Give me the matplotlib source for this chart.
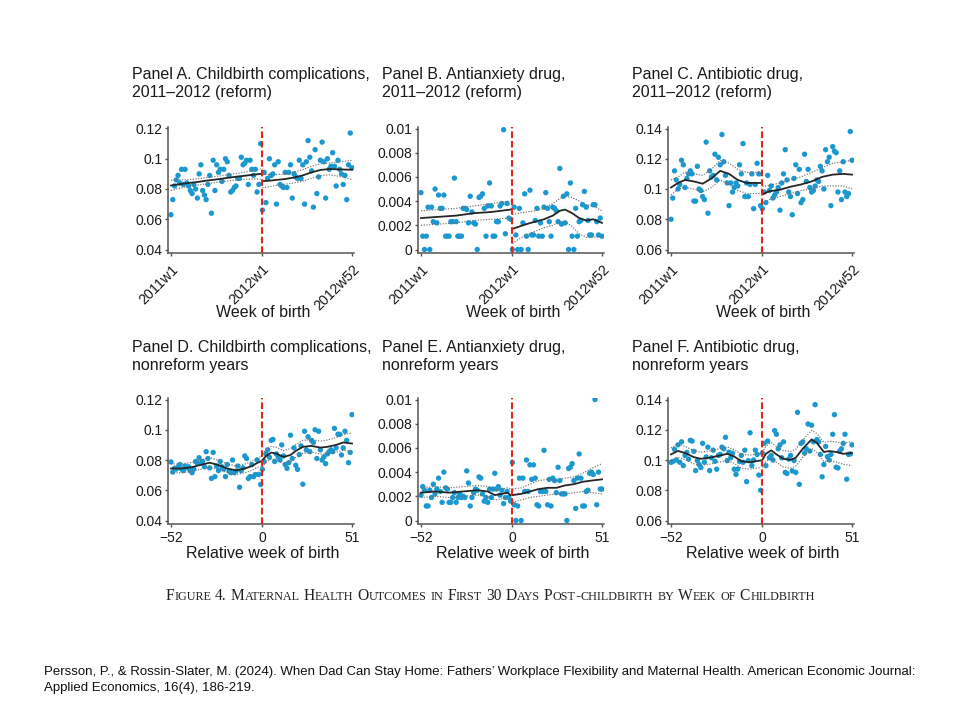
"""Figure 4 - maternal health outcomes by week of childbirth (six panels)"""
import re

import matplotlib
matplotlib.use('Agg')
import matplotlib.pyplot as plt
import numpy as np

plt.rcParams['font.family'] = ['Liberation Sans', 'DejaVu Sans']

DOT_COLOR = '#1a98cf'
CUT_COLOR = '#e3261b'
SPINE_COLOR = '#555555'

# week labels
TOP_TICKS = [0, 52, 103]
TOP_TICK_LABELS = ['2011w1', '2012w1', '2012w52']
BOTTOM_TICKS = [-52, 0, 51]
BOTTOM_TICK_LABELS = ['\u221252', '0', '51']

# ---- Panel A: childbirth complications, 2011-2012 (weeks 2011w1 .. 2012w52)
A_VALUES = [
    0.063, 0.073, 0.082, 0.086, 0.089, 0.084, 0.093, 0.083, 0.093, 0.084, 0.082, 0.079, 0.077,
    0.083, 0.080, 0.074, 0.090, 0.096, 0.079, 0.076, 0.073, 0.083, 0.089, 0.064, 0.099, 0.079,
    0.096, 0.091, 0.093, 0.085, 0.093, 0.100, 0.098, 0.089, 0.078, 0.079, 0.081, 0.082, 0.087,
    0.087, 0.101, 0.096, 0.097, 0.099, 0.083, 0.099, 0.093, 0.089, 0.093, 0.078, 0.083, 0.110,
    0.066, 0.091, 0.071, 0.087, 0.100, 0.089, 0.090, 0.096, 0.070, 0.098, 0.083, 0.082, 0.081,
    0.091, 0.081, 0.091, 0.096, 0.074, 0.090, 0.088, 0.087, 0.099, 0.087, 0.096, 0.070, 0.098,
    0.112, 0.101, 0.092, 0.068, 0.106, 0.077, 0.088, 0.099, 0.111, 0.098, 0.074, 0.100, 0.093,
    0.095, 0.104, 0.095, 0.082, 0.099, 0.093, 0.090, 0.083, 0.089, 0.073, 0.096, 0.117, 0.094,
]
# (week, fit, lower, upper)
A_FIT_PRE = [(0, .0823, .0790, .0858), (5, .0832, .0805, .0860), (10, .0840, .0818, .0862),
             (15, .0846, .0825, .0867), (20, .0855, .0834, .0876), (25, .0862, .0842, .0882),
             (30, .0870, .0850, .0890), (35, .0878, .0857, .0899), (40, .0885, .0862, .0908),
             (45, .0892, .0866, .0918), (51, .0900, .0866, .0933)]
A_FIT_POST = [(52, .0852, .0808, .0897), (56, .0855, .0815, .0895), (60, .0860, .0825, .0895),
              (65, .0866, .0832, .0900), (70, .0876, .0840, .0912), (75, .0890, .0852, .0928),
              (80, .0910, .0870, .0950), (85, .0926, .0888, .0966), (90, .0932, .0894, .0972),
              (95, .0930, .0885, .0977), (100, .0928, .0872, .0985), (103, .0928, .0862, .0990)]

# ---- Panel B: antianxiety drug, 2011-2012
B_VALUES = [
    .0047, .0011, 0, .0011, .0035, 0, .0035, .0023, .0050, .0022, .0045, .0034, .0034,
    .0045, .0011, .0011, .0011, .0023, .0023, .0059, .0023, .0011, .0011, .0011, .0034, .0034,
    .0033, .0022, .0044, .0031, .0022, .0021, 0, .0043, .0044, .0046, .0034, .0011, .0036,
    .0055, .0036, .0011, .0011, .0023, .0023, .0036, .0038, .0099, .0013, .0038, .0026, .0025,
    0, .0035, .0012, 0, .0034, 0, .0022, .0046, .0011, 0, .0049, .0012, .0012,
    .0024, .0034, .0011, .0022, .0011, .0035, .0047, .0034, .0023, .0011, .0035, .0034, .0032,
    .0023, .0067, .0021, .0044, .0022, .0046, 0, .0055, .0011, 0, .0034, .0011, .0023,
    .0024, .0037, .0048, .0035, .0024, .0012, .0012, .0037, .0037, .0023, .0012, .0026, .0011,
]
B_FIT_PRE = [(0, .0026, .0020, .0032), (10, .0027, .0021, .0033), (20, .0028, .0022, .0034),
             (30, .0030, .0024, .0036), (40, .0031, .0025, .0038), (51, .0033, .0026, .0040)]
B_FIT_POST = [(52, .0017, .0005, .0029), (56, .0019, .0009, .0030), (60, .0021, .0012, .0031),
              (65, .0023, .0015, .0032), (70, .0025, .0018, .0034), (75, .0028, .0020, .0038),
              (79, .0032, .0023, .0042), (82, .0033, .0023, .0044), (86, .0030, .0019, .0043),
              (90, .0026, .0013, .0040), (94, .0024, .0010, .0037), (98, .0025, .0010, .0036),
              (103, .0022, .0011, .0032)]

# ---- Panel C: antibiotic drug, 2011-2012
C_VALUES = [
    .080, .094, .112, .106, .100, .103, .119, .116, .101, .107, .110, .112, .110,
    .092, .092, .115, .100, .099, .095, .093, .131, .084, .112, .108, .109, .123,
    .106, .121, .116, .136, .118, .109, .104, .089, .104, .098, .101, .104, .102,
    .116, .110, .130, .095, .104, .095, .103, .110, .087, .103, .117, .110, .089,
    .087, .098, .091, .109, .099, .102, .094, .096, .098, .101, .086, .104, .110,
    .126, .106, .098, .095, .083, .107, .116, .097, .113, .091, .093, .123, .105,
    .113, .101, .098, .099, .102, .106, .105, .115, .112, .100, .126, .118, .121,
    .089, .128, .125, .124, .098, .112, .093, .118, .098, .095, .097, .138, .119,
]
C_FIT_PRE = [(0, .101, .096, .106), (4, .104, .100, .108), (8, .106, .101, .111),
             (13, .105, .100, .110), (18, .1035, .098, .109), (23, .107, .101, .113),
             (28, .112, .106, .119), (33, .110, .103, .117), (38, .106, .099, .113),
             (43, .104, .097, .111), (48, .104, .097, .111), (51, .104, .097, .111)]
C_FIT_POST = [(52, .0965, .090, .1015), (56, .0985, .093, .1025), (62, .0995, .095, .104),
              (68, .1015, .097, .106), (74, .103, .099, .108), (80, .105, .100, .111),
              (86, .108, .102, .114), (92, .1095, .102, .117), (98, .110, .102, .118),
              (103, .1095, .100, .119)]

# ---- Panel D: childbirth complications, nonreform years (relative week -52 .. 51)
D_VALUES = [
    .0787, .0720, .0745, .0740, .0755, .0770, .0740, .0730, .0760, .0748, .0755, .0730, .0716,
    .0740, .0790, .0780, .0815, .0780, .0790, .0755, .0855, .0810, .0748, .0678, .0850, .0690,
    .0760, .0730, .0790, .0755, .0740, .0690, .0770, .0727, .0716, .0800, .0716, .0727, .0760,
    .0620, .0730, .0748, .0827, .0810, .0678, .0690, .0770, .0690, .0704, .0800, .0705, .0638,
    .0738, .0790, .0840, .0867, .0818, .0930, .0936, .0790, .0840, .0820, .0800, .0900, .0827,
    .0770, .0745, .0782, .0964, .0810, .0880, .0765, .0738, .0836, .0893, .0640, .0990, .0867,
    .0953, .0855, .0930, .0916, .1000, .0810, .0990, .0867, .0800, .0820, .0776, .0840, .0855,
    .0867, .0855, .1009, .0880, .0970, .0970, .0833, .0880, .0990, .0930, .0782, .0850, .1100,
]
D_FIT_PRE = [(-52, .0744, .0716, .0774), (-46, .0744, .0716, .0774), (-40, .0753, .0724, .0784),
             (-34, .0771, .0742, .0803), (-30, .0782, .0752, .0815), (-25, .0767, .0738, .0798),
             (-20, .0744, .0716, .0774), (-15, .0731, .0703, .0760), (-10, .0744, .0716, .0773),
             (-6, .0760, .0731, .0790), (-3, .0780, .0750, .0811), (-1, .0790, .0758, .0822)]
D_FIT_POST = [(0, .0798, .0756, .0840), (2, .0825, .0784, .0866), (5, .0849, .0808, .0890),
              (8, .0842, .0800, .0884), (12, .0820, .0778, .0862), (16, .0833, .0791, .0875),
              (19, .0860, .0818, .0902), (23, .0887, .0844, .0930), (28, .0893, .0851, .0935),
              (33, .0882, .0839, .0925), (37, .0887, .0842, .0932), (42, .0900, .0852, .0948),
              (46, .0916, .0864, .0968), (51, .0909, .0855, .0978)]

# ---- Panel E: antianxiety drug, nonreform years
E_VALUES = [
    .0021, .0028, .0025, .0012, .0012, .0025, .0019, .0030, .0022, .0026, .0035, .0024, .0015,
    .0040, .0027, .0026, .0015, .0015, .0019, .0023, .0015, .0019, .0022, .0019, .0020, .0019,
    .0041, .0031, .0012, .0019, .0023, .0026, .0025, .0036, .0035, .0022, .0016, .0019, .0015,
    .0026, .0019, .0026, .0039, .0026, .0028, .0021, .0025, .0014, .0019, .0024, .0019, .0016,
    .0048, .0013, 0, .0012, .0035, 0, .0035, .0024, .0050, .0024, .0046, .0034, .0046,
    .0035, .0013, .0012, .0024, .0024, .0058, .0024, .0013, .0034, .0012, .0035, .0033, .0023,
    .0044, .0033, .0022, .0022, .0022, 0, .0043, .0044, .0047, .0033, .0010, .0035, .0055,
    .0035, .0012, .0012, .0024, .0025, .0039, .0040, .0038, .0100, .0013, .0040, .0026, .0026,
]
E_FIT_PRE = [(-52, .0023, .0019, .0027), (-44, .0024, .0020, .0028), (-36, .0023, .0019, .0027),
             (-28, .0024, .0020, .0028), (-20, .0025, .0021, .0029), (-14, .0024, .0020, .0028),
             (-10, .0021, .0017, .0025), (-6, .0022, .0018, .0026), (-3, .0023, .0019, .0027),
             (-1, .0021, .0016, .0026)]
E_FIT_POST = [(0, .0021, .0015, .0026), (5, .0022, .0017, .0027), (10, .0024, .0019, .0030),
              (15, .0026, .0020, .0033), (20, .0027, .0021, .0034), (25, .0027, .0022, .0033),
              (30, .0029, .0022, .0035), (35, .0030, .0023, .0036), (40, .0032, .0024, .0039),
              (45, .0033, .0023, .0043), (51, .0034, .0022, .0047)]

# ---- Panel F: antibiotic drug, nonreform years
F_VALUES = [
    .0985, .0990, .1070, .1000, .1100, .0985, .1120, .0963, .1030, .1050, .1006, .1130, .1125,
    .1057, .0930, .0996, .0970, .0950, .1110, .0985, .1020, .1085, .0930, .1015, .1065, .0992,
    .0939, .1030, .1037, .1085, .1074, .1150, .0996, .1052, .1015, .1045, .0939, .0905, .0940,
    .0990, .1030, .0985, .1065, .0857, .0996, .1180, .0963, .1000, .1065, .1037, .0900, .0800,
    .1046, .1110, .0963, .1125, .1015, .1030, .1000, .1194, .1170, .1074, .1100, .1015, .1120,
    .0918, .0911, .1006, .1030, .0928, .0996, .0918, .1315, .0839, .1110, .1120, .1046, .1074,
    .1238, .1059, .1230, .1120, .1366, .1135, .1120, .1037, .0889, .0970, .1090, .1022, .1000,
    .1037, .1170, .1300, .0952, .0947, .1059, .1074, .1110, .1170, .0873, .1037, .1040, .1100,
]
F_FIT_PRE = [(-52, .1037, .0995, .1080), (-48, .1060, .1018, .1105), (-44, .1046, .1003, .1090),
             (-39, .1019, .0975, .1063), (-35, .1008, .0965, .1052), (-30, .1015, .0972, .1060),
             (-24, .1030, .0987, .1075), (-20, .1041, .0997, .1086), (-16, .1023, .0978, .1068),
             (-12, .0992, .0946, .1038), (-7, .0985, .0940, .1032), (-1, .0997, .0950, .1045)]
F_FIT_POST = [(0, .1001, .0951, .1051), (2, .1041, .0990, .1092), (5, .1064, .1012, .1116),
              (8, .1037, .0984, .1090), (12, .1008, .0954, .1062), (16, .1001, .0946, .1056),
              (19, .1015, .0959, .1071), (23, .1075, .1018, .1132), (28, .1136, .1076, .1196),
              (31, .1113, .1051, .1175), (35, .1053, .0989, .1117), (38, .1059, .0994, .1124),
              (42, .1053, .0986, .1120), (46, .1041, .0972, .1110), (51, .1046, .0963, .1122)]

CAPTION = "Figure 4. Maternal Health Outcomes in First 30 Days Post-childbirth by Week of Childbirth"
CITATION_LINES = ["Persson, P., & Rossin-Slater, M. (2024). When Dad Can Stay Home: Fathers\u2019 "
                  "Workplace Flexibility and Maternal Health. American Economic Journal:",
                  "Applied Economics, 16(4), 186-219."]

W, H = 960, 720


def px_box(left, bottom, width, height):
    """pixel box (top-left origin) -> figure fraction rect"""
    return [left / W, 1 - bottom / H, width / W, height / H]


def draw_panel(fig, left, bottom, values, fit_pre, fit_post, weeks, cut, yticks,
               xticks, xticklabels, rotate):
    ax = fig.add_axes(px_box(left, bottom, 186, 126.5))
    ax.scatter(weeks, values, s=15, color=DOT_COLOR, edgecolors='none', zorder=2)
    for fit in (fit_pre, fit_post):
        wk, mid, lo, hi = zip(*fit)
        ax.plot(wk, mid, color='#262626', lw=1.3, zorder=4)
        ax.plot(wk, lo, color='#6e6e6e', lw=0.85, ls=(0, (1, 1.3)), zorder=3)
        ax.plot(wk, hi, color='#6e6e6e', lw=0.85, ls=(0, (1, 1.3)), zorder=3)
    ax.axvline(cut, color=CUT_COLOR, lw=1.5, ls=(0, (3.2, 1.4)), zorder=5)

    # axis ranges: ticks placed so that the spine sticks out a bit
    step = (yticks[-1] - yticks[0]) / 121
    ax.set_ylim(yticks[0] - 3.5 * step, yticks[-1] + 2 * step)
    ax.set_yticks(yticks)
    ax.set_yticklabels(['%g' % t for t in yticks])
    xs = (xticks[-1] - xticks[0]) / 181
    ax.set_xlim(xticks[0] - 3 * xs, xticks[-1] + 2 * xs)
    ax.set_xticks(xticks)
    ax.set_xticklabels(xticklabels)

    for side in ('top', 'right'):
        ax.spines[side].set_visible(False)
    for side in ('left', 'bottom'):
        ax.spines[side].set_color(SPINE_COLOR)
        ax.spines[side].set_linewidth(1.1)
    ax.tick_params(length=2.5, width=1.0, color=SPINE_COLOR, labelsize=10,
                   labelcolor='#1a1a1a', pad=1.5)
    if rotate:
        ax.tick_params(axis='x', pad=4, labelsize=10.3)
        plt.setp(ax.get_xticklabels(), rotation=45, ha='right', va='top',
                 rotation_mode='anchor')
    else:
        ax.tick_params(axis='x', pad=2.5)
    ax.set_facecolor('none')
    return ax


def small_caps(fig, x_center, y, text, size, ratio=0.78, **kw):
    """write text in (fake) small caps, centred at x_center (pixels)"""
    renderer = fig.canvas.get_renderer()
    space = 0.26 * size * 100 / 72
    xpos = 0.0
    pieces = []
    for word in text.split(' '):
        for run in re.findall(r"[a-z]+|[^a-z]+", word):
            fs = size * ratio if run.islower() else size
            t = fig.text(0, 1 - y / H, run.upper(), fontsize=fs, va='baseline', **kw)
            w = t.get_window_extent(renderer).width
            pieces.append((t, xpos))
            xpos += w
        xpos += space
    total = xpos - space
    x0 = x_center - total / 2
    for t, off in pieces:
        t.set_x((x0 + off) / W)


def main():
    fig = plt.figure(figsize=(9.6, 7.2), dpi=100)
    top_weeks = np.arange(104)
    rel_weeks = np.arange(-52, 52)

    top = [
        (168, A_VALUES, A_FIT_PRE, A_FIT_POST, [0.04, 0.06, 0.08, 0.1, 0.12],
         ["Panel A. Childbirth complications,", "2011\u20132012 (reform)"]),
        (418, B_VALUES, B_FIT_PRE, B_FIT_POST, [0, 0.002, 0.004, 0.006, 0.008, 0.01],
         ["Panel B. Antianxiety drug,", "2011\u20132012 (reform)"]),
        (668, C_VALUES, C_FIT_PRE, C_FIT_POST, [0.06, 0.08, 0.1, 0.12, 0.14],
         ["Panel C. Antibiotic drug,", "2011\u20132012 (reform)"]),
    ]
    bottom = [
        (168, D_VALUES, D_FIT_PRE, D_FIT_POST, [0.04, 0.06, 0.08, 0.1, 0.12],
         ["Panel D. Childbirth complications,", "nonreform years"]),
        (418, E_VALUES, E_FIT_PRE, E_FIT_POST, [0, 0.002, 0.004, 0.006, 0.008, 0.01],
         ["Panel E. Antianxiety drug,", "nonreform years"]),
        (668, F_VALUES, F_FIT_PRE, F_FIT_POST, [0.06, 0.08, 0.1, 0.12, 0.14],
         ["Panel F. Antibiotic drug,", "nonreform years"]),
    ]

    for left, vals, pre, post, yt, title in top:
        draw_panel(fig, left, 253, vals, pre, post, top_weeks, 52, yt,
                   TOP_TICKS, TOP_TICK_LABELS, rotate=True)
        fig.text((left - 36) / W, 1 - 79 / H, title[0], fontsize=11.5, color='#1a1a1a')
        fig.text((left - 36) / W, 1 - 97 / H, title[1], fontsize=11.5, color='#1a1a1a')
        fig.text((left + 95) / W, 1 - 317 / H, "Week of birth", fontsize=11.5,
                 ha='center', va='baseline', color='#1a1a1a')

    for left, vals, pre, post, yt, title in bottom:
        draw_panel(fig, left, 524, vals, pre, post, rel_weeks, 0, yt,
                   BOTTOM_TICKS, BOTTOM_TICK_LABELS, rotate=False)
        fig.text((left - 36) / W, 1 - 352 / H, title[0], fontsize=11.5, color='#1a1a1a')
        fig.text((left - 36) / W, 1 - 370 / H, title[1], fontsize=11.5, color='#1a1a1a')
        fig.text((left + 95) / W, 1 - 558 / H, "Relative week of birth", fontsize=11.5,
                 ha='center', va='baseline', color='#1a1a1a')

    small_caps(fig, 490, 600, CAPTION, 11.2, family='Liberation Serif', color='#222222')
    for i, line in enumerate(CITATION_LINES):
        fig.text(44 / W, 1 - (675 + 16 * i) / H, line, fontsize=9.5, va='baseline',
                 color='#111111')

    fig.savefig('out.png', dpi=100)


if __name__ == '__main__':
    main()
